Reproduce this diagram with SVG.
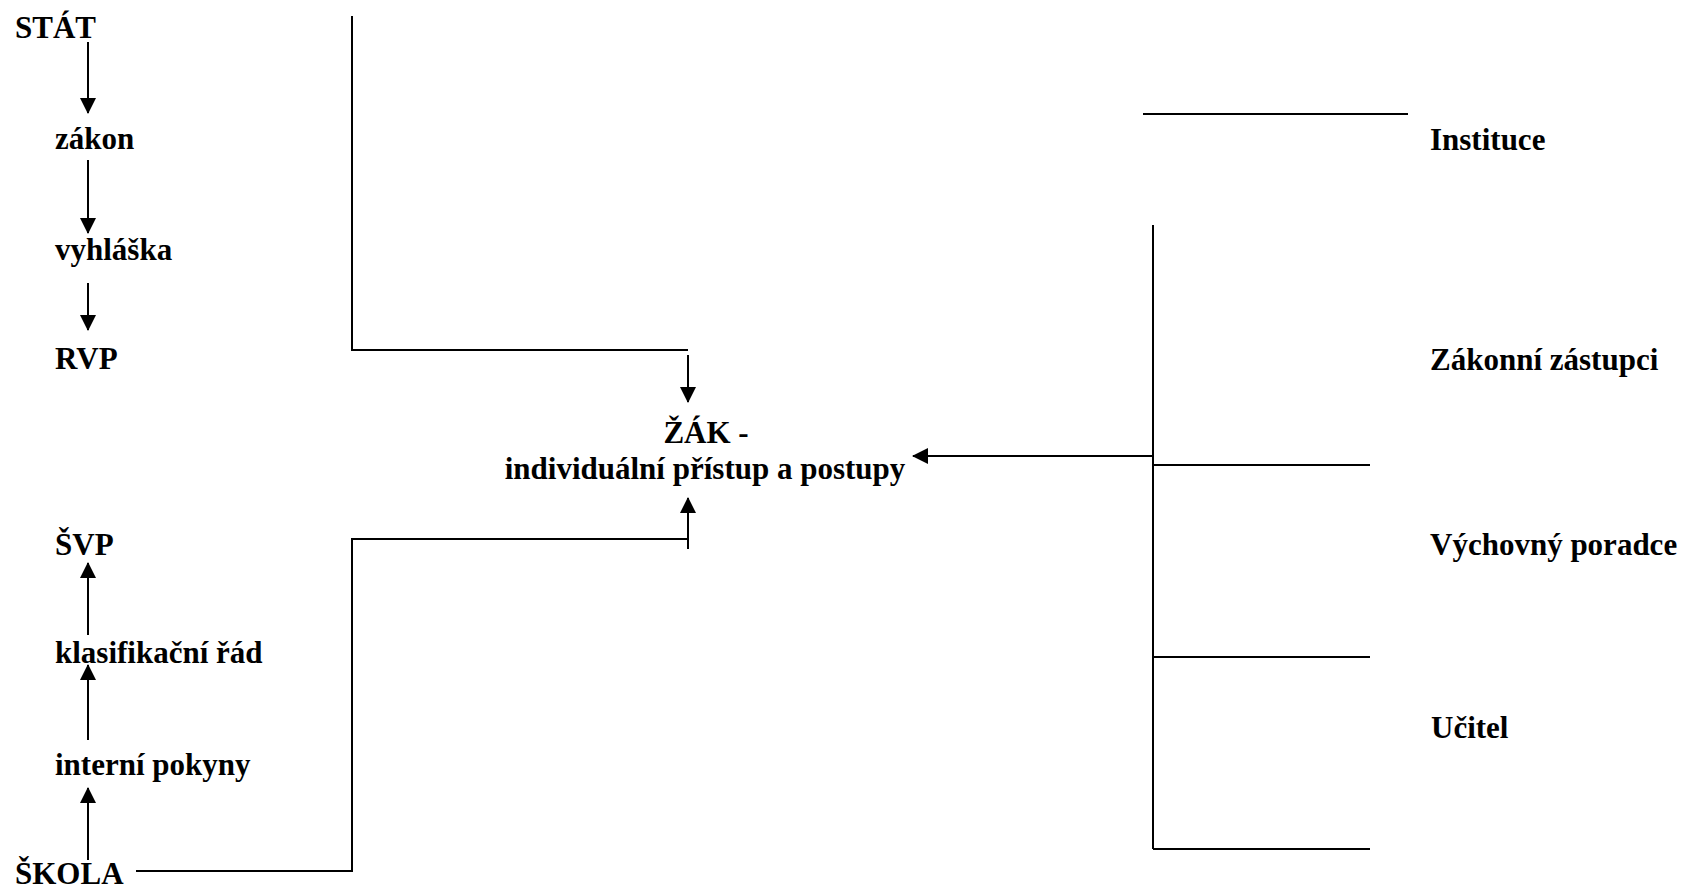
<svg xmlns="http://www.w3.org/2000/svg" width="1692" height="890" viewBox="0 0 1692 890">
<style>
text{font-family:"Liberation Serif","Times New Roman",serif;font-weight:bold;font-size:31px;fill:#000}
.c{stroke:#000;stroke-width:2;fill:none}
.mid{text-anchor:middle}
</style>
<defs>
<marker id="ah" markerUnits="userSpaceOnUse" markerWidth="16" markerHeight="16" refX="15" refY="8" orient="auto">
<path d="M0,0 L16,8 L0,16 z" fill="#000"/>
</marker>
</defs>
<rect width="1692" height="890" fill="#fff"/>
<g id="connectors">
<line class="c" x1="88" y1="42" x2="88" y2="113" marker-end="url(#ah)"/>
<line class="c" x1="88" y1="160" x2="88" y2="233" marker-end="url(#ah)"/>
<line class="c" x1="88" y1="283" x2="88" y2="330" marker-end="url(#ah)"/>
<line class="c" x1="88" y1="635" x2="88" y2="563" marker-end="url(#ah)"/>
<line class="c" x1="88" y1="740" x2="88" y2="665" marker-end="url(#ah)"/>
<line class="c" x1="88" y1="860" x2="88" y2="788" marker-end="url(#ah)"/>
<polyline class="c" points="352,16 352,350 688,350"/>
<line class="c" x1="688" y1="355" x2="688" y2="402" marker-end="url(#ah)"/>
<polyline class="c" points="136,871 352,871 352,539 688,539"/>
<line class="c" x1="688" y1="549" x2="688" y2="498" marker-end="url(#ah)"/>
<line class="c" x1="1153" y1="456" x2="913" y2="456" marker-end="url(#ah)"/>
<line class="c" x1="1143" y1="114" x2="1408" y2="114"/>
<line class="c" x1="1153" y1="225" x2="1153" y2="849"/>
<line class="c" x1="1153" y1="465" x2="1370" y2="465"/>
<line class="c" x1="1153" y1="657" x2="1370" y2="657"/>
<line class="c" x1="1153" y1="849" x2="1370" y2="849"/>
</g>
<g id="stat"><text x="15" y="38">STÁT</text></g>
<g id="zakon"><text x="55" y="149">zákon</text></g>
<g id="vyhlaska"><text x="55" y="260">vyhláška</text></g>
<g id="rvp"><text x="55" y="369">RVP</text></g>
<g id="svp"><text x="55" y="555">ŠVP</text></g>
<g id="klasifikacni"><text x="55" y="663">klasifikační řád</text></g>
<g id="interni"><text x="55" y="775">interní pokyny</text></g>
<g id="skola"><text x="15" y="884">ŠKOLA</text></g>
<g id="zak"><text class="mid" x="706" y="443">ŽÁK -</text><text class="mid" x="705" y="479">individuální přístup a postupy</text></g>
<g id="instituce"><text x="1430" y="150">Instituce</text></g>
<g id="zastupci"><text x="1430" y="370">Zákonní zástupci</text></g>
<g id="poradce"><text x="1430" y="555">Výchovný poradce</text></g>
<g id="ucitel"><text x="1431" y="738">Učitel</text></g>
</svg>
